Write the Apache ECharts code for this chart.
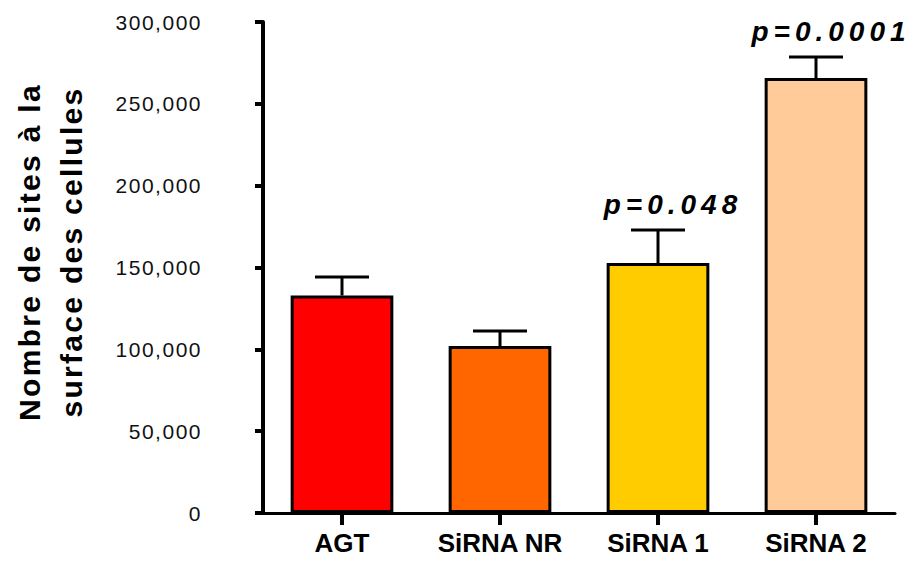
<!DOCTYPE html>
<html><head><meta charset="utf-8">
<script src="https://cdn.jsdelivr.net/npm/echarts@6/dist/echarts.min.js"></script>
<style>html,body{margin:0;padding:0;background:#fff}#c{width:912px;height:561px}</style>
</head><body><div id="c"></div>
<script>
const categories = ['AGT', 'SiRNA NR', 'SiRNA 1', 'SiRNA 2'];
const means = [132900, 102000, 152700, 265800];
const errTops = [144200, 111200, 172900, 278600];
const colors = ['#ff0000', '#ff6600', '#ffcc00', '#ffcc99'];
const pLabels = ['', '', 'p=0.048', 'p=0.0001'];
const yTicks = [0, 50000, 100000, 150000, 200000, 250000, 300000];
const titleLines = ['Nombre de sites à la', 'surface des cellules'];

const FONT = '"Liberation Sans", Arial, sans-serif';
const chart = echarts.init(document.getElementById('c'), null, {renderer: 'svg'});
chart.setOption({
  animation: false,
  grid: {left: 263, top: 22, right: 17, bottom: 48},
  xAxis: {
    type: 'category', data: categories,
    axisLine: {show: true, lineStyle: {color: '#000', width: 3}},
    axisTick: {show: true, alignWithLabel: true, interval: 0, length: 12, lineStyle: {color: '#000', width: 4}},
    axisLabel: {interval: 0, hideOverlap: false, color: '#000', fontFamily: FONT, fontWeight: 'bold', fontSize: 26, margin: 17}
  },
  yAxis: {
    type: 'value', min: yTicks[0], max: yTicks[yTicks.length - 1], interval: 50000,
    axisLine: {show: true, lineStyle: {color: '#000', width: 4}},
    axisTick: {show: true, length: 8, lineStyle: {color: '#000', width: 4}},
    splitLine: {show: false},
    axisLabel: {color: '#111', fontFamily: FONT, fontSize: 21, margin: 61, padding: [4, 0, 0, 0],
      formatter: v => v.toLocaleString('en-US')}
  },
  graphic: [{
    type: 'text', x: 50, y: 252, rotation: Math.PI / 2,
    style: {text: titleLines.join('\n'), fill: '#000',
      font: 'bold 30px ' + FONT, align: 'center', verticalAlign: 'middle', lineHeight: 42}
  }],
  series: [{
    type: 'bar', barCategoryGap: '35%',
    data: means.map((v, i) => ({value: v, itemStyle: {color: colors[i]}})),
    itemStyle: {borderColor: '#000', borderWidth: 3},
    z: 2
  }, {
    type: 'custom', z: 3,
    data: categories.map((c, i) => [i, means[i], errTops[i]]),
    renderItem: (params, api) => {
      const base = api.coord([api.value(0), api.value(1)]);
      const top = api.coord([api.value(0), api.value(2)]);
      const hw = 27;
      const children = [
        {type: 'line', shape: {x1: base[0], y1: base[1], x2: top[0], y2: top[1]}, style: {stroke: '#000', lineWidth: 3}},
        {type: 'line', shape: {x1: top[0] - hw, y1: top[1], x2: top[0] + hw, y2: top[1]}, style: {stroke: '#000', lineWidth: 3}}
      ];
      const lbl = pLabels[params.dataIndex];
      if (lbl) {
        children.push({type: 'text', x: top[0] + 15, y: top[1] - 12,
          style: {text: lbl, fill: '#000', font: 'italic bold 28px ' + FONT, align: 'center', verticalAlign: 'bottom'}});
      }
      return {type: 'group', children};
    }
  }]
});

function applySpacing() {
  document.querySelectorAll('#c svg text').forEach(t => {
    const s = t.textContent;
    let sp = null;
    if (/^p=/.test(s)) sp = '5px';
    else if (/^[\d,]+$/.test(s)) sp = '1.5px';
    else if (titleLines.includes(s)) sp = '2.3px';
    if (sp) t.setAttribute('letter-spacing', sp);
  });
}
chart.getZr().flush();
applySpacing();
chart.on('finished', applySpacing);
</script></body></html>
